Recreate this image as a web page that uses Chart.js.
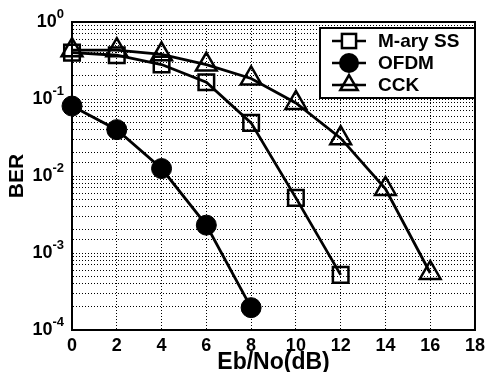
<!DOCTYPE html>
<html>
<head>
<meta charset="utf-8">
<script src="https://cdn.jsdelivr.net/npm/chart.js@4.4.1/dist/chart.umd.min.js"></script>
<style>
  html, body { margin: 0; padding: 0; background: #fff; }
  #wrap { width: 490px; height: 372px; }
</style>
</head>
<body>
<div id="wrap"><canvas id="berChart"></canvas></div>
<script>
// Eb/No (dB) and BER per scheme
const snrSS = [0, 2, 4, 6, 8, 10, 12];
const berSS = [0.40, 0.37, 0.28, 0.165, 0.049, 0.0052, 0.00052];

const snrOFDM = [0, 2, 4, 6, 8];
const berOFDM = [0.081, 0.040, 0.0125, 0.0023, 0.000195];

const snrCCK = [0, 2, 4, 6, 8, 10, 12, 14, 16];
const berCCK = [0.43, 0.43, 0.38, 0.28, 0.185, 0.089, 0.031, 0.0068, 0.00055];

const xTicks = [0, 2, 4, 6, 8, 10, 12, 14, 16, 18];
const yExponents = [0, -1, -2, -3, -4];

const FONT = 'Liberation Sans, Arial, sans-serif';

function toPoints(xs, ys) {
  return xs.map((x, i) => ({ x: x, y: ys[i] }));
}

function legendMarker(ctx, style, r, x, y) {
  ctx.beginPath();
  if (style === 'circle') {
    ctx.arc(x, y, r, 0, Math.PI * 2);
    ctx.fill();
  } else if (style === 'rect') {
    const h = r * Math.SQRT1_2;
    ctx.fillStyle = '#fff';
    ctx.fillRect(x - h, y - h, 2 * h, 2 * h);
    ctx.strokeRect(x - h, y - h, 2 * h, 2 * h);
  } else {
    const s = r * Math.sin(Math.PI / 3);
    ctx.moveTo(x, y - r);
    ctx.lineTo(x + s, y + r / 2);
    ctx.lineTo(x - s, y + r / 2);
    ctx.closePath();
    ctx.fillStyle = '#fff';
    ctx.fill();
    ctx.stroke();
    ctx.beginPath();
    ctx.moveTo(x - s, y);
    ctx.lineTo(x + s, y);
    ctx.stroke();
  }
}

// frame, y tick labels, axis titles and the boxed legend
const decorations = {
  id: 'decorations',
  afterDraw(chart) {
    const ctx = chart.ctx;
    const area = chart.chartArea;
    const yScale = chart.scales.y;
    ctx.save();

    ctx.strokeStyle = '#000';
    ctx.lineWidth = 2;
    ctx.strokeRect(area.left, area.top, area.right - area.left, area.bottom - area.top);

    ctx.fillStyle = '#000';
    yExponents.forEach(e => {
      const y = yScale.getPixelForValue(Math.pow(10, e));
      const exp = e === 0 ? '0' : '-' + Math.abs(e);
      ctx.font = 'bold 13px ' + FONT;
      ctx.textAlign = 'left';
      ctx.textBaseline = 'middle';
      const ew = ctx.measureText(exp).width;
      const right = area.left - 8;
      ctx.fillText(exp, right - ew, y - 8);
      ctx.font = 'bold 18px ' + FONT;
      ctx.textAlign = 'right';
      ctx.fillText('10', right - ew, y);
    });

    ctx.font = 'bold 23px ' + FONT;
    ctx.textAlign = 'center';
    ctx.textBaseline = 'middle';
    ctx.fillText('Eb/No(dB)', (area.left + area.right) / 2, 363);
    ctx.save();
    ctx.translate(17, (area.top + area.bottom) / 2);
    ctx.rotate(-Math.PI / 2);
    ctx.font = 'bold 21px ' + FONT;
    ctx.fillText('BER', 0, 0);
    ctx.restore();

    // legend
    const lx = 320, ly = 28, lw = area.right - 320, lh = 70;
    ctx.fillStyle = '#fff';
    ctx.fillRect(lx, ly, lw, lh);
    ctx.strokeStyle = '#000';
    ctx.lineWidth = 2;
    ctx.strokeRect(lx, ly, lw, lh);
    chart.data.datasets.forEach((ds, i) => {
      const y = ly + 13 + i * 22;
      ctx.strokeStyle = '#000';
      ctx.fillStyle = '#000';
      ctx.lineWidth = 2.5;
      ctx.beginPath();
      ctx.moveTo(332, y);
      ctx.lineTo(366, y);
      ctx.stroke();
      legendMarker(ctx, ds.pointStyle, 10, 349, y);
      ctx.fillStyle = '#000';
      ctx.font = 'bold 19px ' + FONT;
      ctx.textAlign = 'left';
      ctx.textBaseline = 'middle';
      ctx.fillText(ds.label, 378, y + 1);
    });

    ctx.restore();
  }
};

const ctx = document.getElementById('berChart').getContext('2d');

const berChart = new Chart(ctx, {
  type: 'line',
  data: {
    datasets: [{
      label: 'M-ary SS',
      data: toPoints(snrSS, berSS),
      borderColor: '#000',
      borderWidth: 2.8,
      pointStyle: 'rect',
      pointRadius: 11,
      pointBackgroundColor: 'rgba(255,255,255,0)',
      pointBorderColor: '#000',
      pointBorderWidth: 2.5,
      clip: false
    }, {
      label: 'OFDM',
      data: toPoints(snrOFDM, berOFDM),
      borderColor: '#000',
      borderWidth: 2.8,
      pointStyle: 'circle',
      pointRadius: 10,
      pointBackgroundColor: '#000',
      pointBorderColor: '#000',
      pointBorderWidth: 1,
      clip: false
    }, {
      label: 'CCK',
      data: toPoints(snrCCK, berCCK),
      borderColor: '#000',
      borderWidth: 2.8,
      pointStyle: 'triangle',
      pointRadius: 12,
      pointBackgroundColor: 'rgba(255,255,255,0)',
      pointBorderColor: '#000',
      pointBorderWidth: 2.5,
      clip: false
    }]
  },
  options: {
    responsive: true,
    maintainAspectRatio: false,
    animation: false,
    layout: {
      padding: { top: 22, right: 10, left: 0, bottom: 0 }
    },
    plugins: {
      legend: { display: false },
      tooltip: { enabled: false }
    },
    scales: {
      x: {
        type: 'linear',
        min: 0,
        max: 18,
        afterBuildTicks: (scale) => {
          scale.ticks = xTicks.map(v => ({ value: v }));
        },
        afterFit: (scale) => { scale.height = 42; },
        grid: {
          color: '#000',
          lineWidth: 1,
          drawTicks: false
        },
        border: { display: true, color: '#000', width: 2, dash: [1, 2] },
        ticks: {
          color: '#000',
          padding: 5,
          maxRotation: 0,
          font: { family: FONT, size: 18, weight: 'bold' }
        }
      },
      y: {
        type: 'logarithmic',
        min: 0.0001,
        max: 1,
        afterFit: (scale) => { scale.width = 72; },
        grid: {
          color: '#000',
          lineWidth: 1,
          drawTicks: false
        },
        border: { display: true, color: '#000', width: 2, dash: [1, 2] },
        ticks: {
          display: false
        }
      }
    }
  },
  plugins: [decorations]
});
</script>
</body>
</html>
